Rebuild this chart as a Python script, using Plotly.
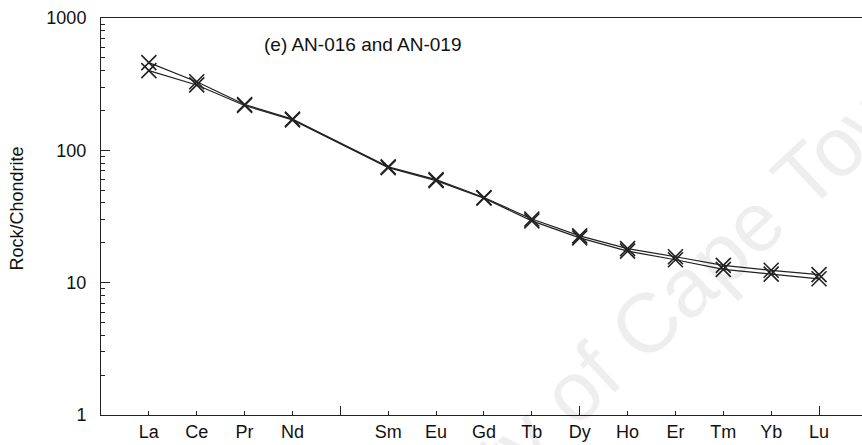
import plotly.graph_objects as go

# Chondrite-normalised REE pattern, samples AN-016 and AN-019
elements = ["La", "Ce", "Pr", "Nd", "Sm", "Eu", "Gd", "Tb", "Dy", "Ho", "Er", "Tm", "Yb", "Lu"]
atomic_numbers = [57, 58, 59, 60, 62, 63, 64, 65, 66, 67, 68, 69, 70, 71]
an016 = [460, 330, 222, 172, 75, 60, 44, 30.3, 22.6, 18.1, 15.7, 13.5, 12.4, 11.5]
an019 = [400, 312, 218, 170, 74, 59, 43.5, 29.3, 21.8, 17.3, 14.9, 12.6, 11.6, 10.7]

y_ticks = [1, 10, 100, 1000]
y_minor = [m * d for d in (1, 10, 100) for m in range(2, 10)]
long_ticks = [56, 61, 66, 71]

FONT = "Liberation Sans, Arial, sans-serif"
INK = "#222222"

fig = go.Figure()
for name, vals in (("AN-016", an016), ("AN-019", an019)):
    fig.add_trace(go.Scatter(
        x=atomic_numbers, y=vals, name=name, mode="lines+markers",
        line=dict(color=INK, width=1.2),
        marker=dict(symbol="x-thin-open", size=15, color=INK,
                    line=dict(color=INK, width=1.6)),
        showlegend=False,
    ))

x_range = [56, 56 + 761 / 47.87]

fig.update_layout(
    width=862, height=445,
    margin=dict(l=101, r=0, t=18, b=30),
    paper_bgcolor="white", plot_bgcolor="white",
    font=dict(family=FONT, size=18, color="#111111"),
    xaxis=dict(
        range=x_range, tickmode="array", tickvals=atomic_numbers, ticktext=elements,
        ticks="inside", ticklen=4, tickwidth=1, tickcolor=INK,
        showline=True, linecolor=INK, linewidth=1, mirror=True,
        showgrid=False, zeroline=False, tickfont=dict(size=18),
    ),
    xaxis2=dict(
        range=x_range, overlaying="x", anchor="y", side="bottom",
        tickmode="array", tickvals=long_ticks, showticklabels=False,
        ticks="inside", ticklen=9, tickwidth=1, tickcolor=INK,
        showline=False, showgrid=False, zeroline=False,
    ),
    yaxis=dict(
        type="log", range=[0, 3], tickmode="array", tickvals=y_ticks,
        ticktext=[str(v) for v in y_ticks],
        ticks="inside", ticklen=9, tickwidth=1, tickcolor=INK,
        minor=dict(tickmode="array", tickvals=y_minor, ticks="inside",
                   ticklen=4, tickcolor=INK, showgrid=False),
        showline=True, linecolor=INK, linewidth=1, mirror=False,
        showgrid=False, zeroline=False, ticklabelstandoff=10,
        tickfont=dict(size=18),
    ),
)

# empty trace so the long-tick axis is laid out
fig.add_trace(go.Scatter(x=[], y=[], xaxis="x2", yaxis="y", showlegend=False))

fig.add_annotation(
    text="(e) AN-016 and AN-019", xref="paper", yref="paper",
    x=0.2116, y=0.932, xanchor="left", yanchor="middle", showarrow=False,
    font=dict(family=FONT, size=19, color="#111111"),
)
fig.add_annotation(
    text="Rock/Chondrite", xref="paper", yref="paper",
    x=-0.110, y=0.521, xanchor="center", yanchor="middle", textangle=-90,
    showarrow=False, font=dict(family=FONT, size=18, color="#111111"),
)
# faint thesis watermark
fig.add_annotation(
    text="University of Cape Town", xref="paper", yref="paper",
    x=0.655, y=0.121, xanchor="center", yanchor="middle", textangle=-43,
    showarrow=False, font=dict(family=FONT, size=84, color="rgba(0,0,0,0.065)"),
)

fig.write_html("out.html")
